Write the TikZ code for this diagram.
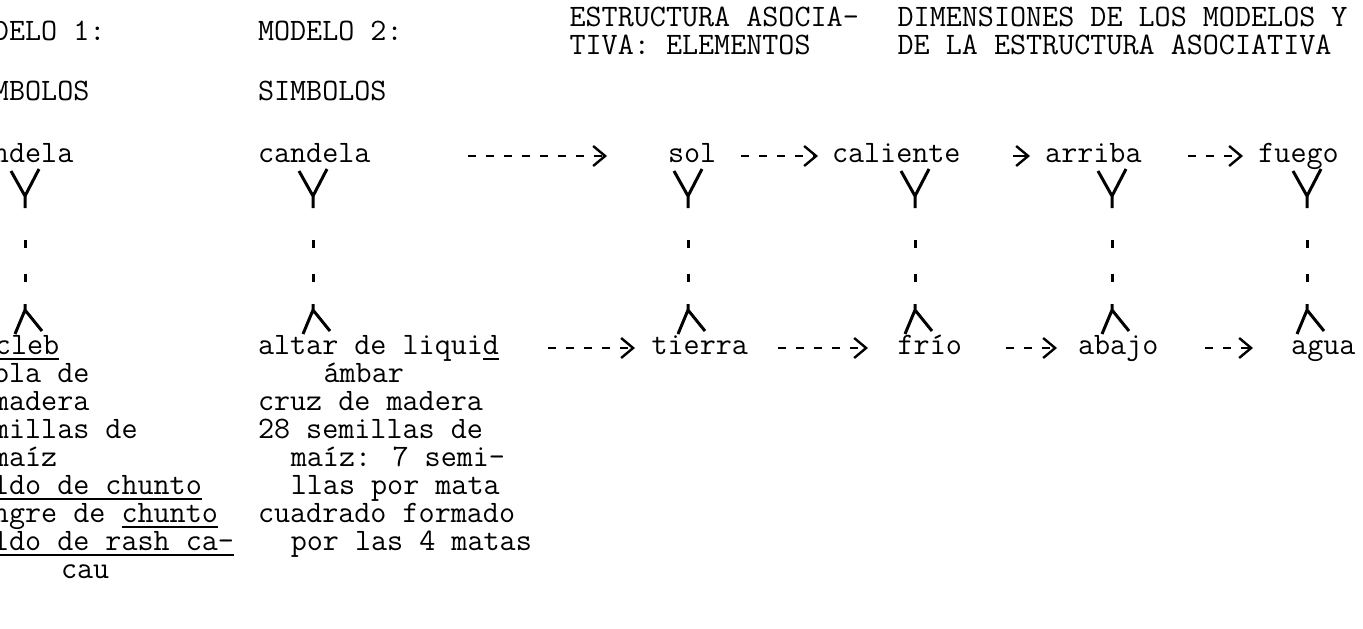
\documentclass[tikz,border=0pt]{standalone}
\usepackage{fontspec}
\usetikzlibrary{
    arrows.meta,
    calc
}

% typed underline
\newcommand{\subraya}[1]{\setbox0\hbox{#1}\rlap{\rule[-3pt]{\wd0}{0.9pt}}\box0}

\tikzset{
  palabra/.style={
    anchor=base west,
    inner sep=0pt,
    outer sep=0pt,
    text height=7pt,
    text depth=1pt,
    font=\ttfamily\fontsize{15.6pt}{14pt}\selectfont
  },
  flecha/.style={
    line width=1pt,
    dash pattern=on 4pt off 5pt,
    -{Straight Barb[length=6pt,width=10pt,line width=1.2pt]}
  },
  flechasola/.style={
    line width=1pt,
    -{Straight Barb[length=6pt,width=10pt,line width=1.2pt]}
  },
  horquilla/.style={line width=1.5pt}
}

\begin{document}
\begin{tikzpicture}[x=0.5pt, y=-0.5pt]

  \useasboundingbox (0,0) rectangle (1363,628);
  \clip (0,0) rectangle (1363,628);

  % headings {{{
  \node[palabra] (modelo1) at (-7,40) {DELO 1:};
  \node[palabra] (modelo2) at (258,40) {MODELO 2:};
  \node[palabra] (estructura1) at (569.6,26) {ESTRUCTURA ASOCIA-};
  \node[palabra] (estructura2) at (569.6,54) {TIVA: ELEMENTOS};
  \node[palabra] (dimensiones1) at (897.6,26) {DIMENSIONES DE LOS MODELOS Y};
  \node[palabra] (dimensiones2) at (897.6,54) {DE LA ESTRUCTURA ASOCIATIVA};
  \node[palabra] (simbolos1) at (-7,100) {MBOLOS};
  \node[palabra] (simbolos2) at (258,100) {SIMBOLOS};
  % }}}

  % upper row {{{
  \node[palabra] (ndela) at (-7,162) {ndela};
  \node[palabra] (candela) at (258,162) {candela};
  \node[palabra] (sol) at (668,162) {sol};
  \node[palabra] (caliente) at (832,162) {caliente};
  \node[palabra] (arriba) at (1045.2,162) {arriba};
  \node[palabra] (fuego) at (1258.4,162) {fuego};
  % }}}

  % lower row {{{
  \node[palabra] (cleb) at (-5,354) {\subraya{cleb}};
  \node[palabra] (altar) at (258,354) {altar de liqui\subraya{d}};
  \node[palabra] (tierra) at (651.6,354) {tierra};
  \node[palabra] (frio) at (897.6,354) {frío};
  \node[palabra] (abajo) at (1078,354) {abajo};
  \node[palabra] (agua) at (1291.2,354) {agua};
  % }}}

  % lists under the models {{{
  \foreach \x/\t [count=\i] in {-7/bla de, -7/madera, -7/millas de,
      -7/maíz, -7/\subraya{ldo de chunto}, -7/ngre de \subraya{chunto},
      -7/\subraya{ldo de rash ca-}, 61/cau}
    \node[palabra] (lista1-\i) at (\x,354+28*\i) {\t};
  \foreach \x/\t [count=\i] in {323.6/ámbar, 258/cruz de madera,
      258/28 semillas de, 290.8/maíz: 7 semi-, 290.8/llas por mata,
      258/cuadrado formado, 290.8/por las 4 matas}
    \node[palabra] (lista2-\i) at (\x,354+28*\i) {\t};
  % }}}

  % horizontal arrows {{{
  \draw[flecha, shorten <=48.6pt, shorten >=30.5pt] (candela.east) -- (sol.west);
  \draw[flecha, shorten <=12.4pt, shorten >=7pt] (sol.east) -- (caliente.west);
  \draw[flechasola, shorten <=26.4pt, shorten >=7.6pt] (caliente.east) -- (arriba.west);
  \draw[flecha, shorten <=23.2pt, shorten >=7.7pt] (arriba.east) -- (fuego.west);

  \draw[flecha, shorten <=24.5pt, shorten >=8.3pt] (altar.east) -- (tierra.west);
  \draw[flecha, shorten <=15pt, shorten >=14.8pt] (tierra.east) -- (frio.west);
  \draw[flecha, shorten <=21.9pt, shorten >=10.5pt] (frio.east) -- (abajo.west);
  \draw[flecha, shorten <=23.5pt, shorten >=19.1pt] (abajo.east) -- (agua.west);
  % }}}

  % vertical links {{{
  \foreach \de/\a/\x in {ndela/cleb/25, candela/altar/313, sol/tierra/688,
      caliente/frio/915, arriba/abajo/1112, fuego/agua/1307} {
    \coordinate (eje) at (\x,0);
    \coordinate (T) at (\de.south -| eje);
    \coordinate (B) at (\a.north -| eje);
    \draw[horquilla] ($(T)+(-14,7)$) -- ($(T)+(0,32)$) -- ($(T)+(0,44)$);
    \draw[horquilla] ($(T)+(14,5)$) -- ($(T)+(0,32)$);
    \draw[horquilla] ($(T)+(0,76)$) -- ($(T)+(0,84)$)
                     ($(T)+(0,110)$) -- ($(T)+(0,118)$);
    \draw[horquilla] ($(B)+(0,-36)$) -- ($(B)+(0,-30)$) -- ($(B)+(-10,-6)$)
                     ($(B)+(0,-30)$) -- ($(B)+(17,-9)$);
  }
  % }}}

\end{tikzpicture}
\end{document}
